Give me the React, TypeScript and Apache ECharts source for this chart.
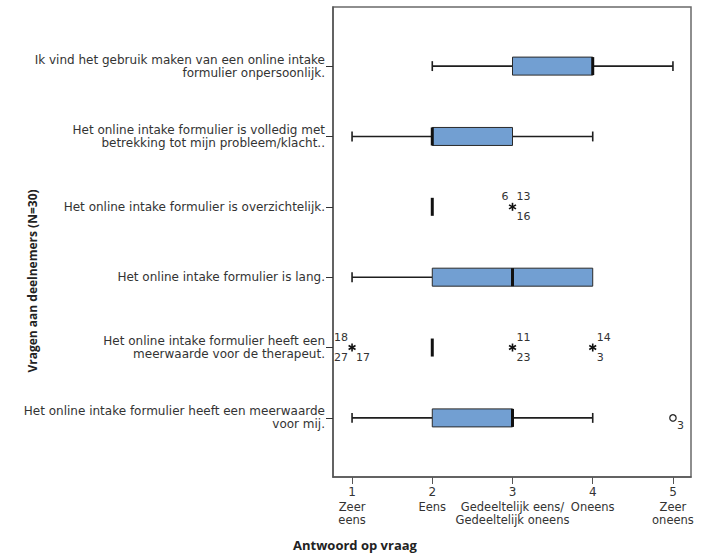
import React, { useEffect, useRef } from "react";
import * as echarts from "echarts";

// Questions, top to bottom (row index 0..5)
const questions = [
  "Ik vind het gebruik maken van een online intake\nformulier onpersoonlijk.",
  "Het online intake formulier is volledig met\nbetrekking tot mijn probleem/klacht..",
  "Het online intake formulier is overzichtelijk.",
  "Het online intake formulier is lang.",
  "Het online intake formulier heeft een\nmeerwaarde voor de therapeut.",
  "Het online intake formulier heeft een meerwaarde\nvoor mij.",
];

// Answer scale
const scaleValues = [1, 2, 3, 4, 5];
const scaleNames = [
  "Zeer\neens",
  "Eens",
  "Gedeeltelijk eens/\nGedeeltelijk oneens",
  "Oneens",
  "Zeer\noneens",
];

// Box-plot statistics per question
const boxMin = [2, 1, 2, 1, 2, 1];
const boxQ1 = [3, 2, 2, 2, 2, 2];
const boxMedian = [4, 2, 2, 3, 2, 3];
const boxQ3 = [4, 3, 2, 4, 2, 3];
const boxMax = [5, 4, 2, 4, 2, 4];

// Extreme values (asterisks) with case numbers: [top-left, top-right, bottom-left, bottom-right]
const extremeRow = [2, 4, 4, 4];
const extremeValue = [3, 1, 3, 4];
const extremeCases = [
  ["6", "13", "", "16"],
  ["18", "", "27", "17"],
  ["", "11", "", "23"],
  ["", "14", "", "3"],
];

// Outliers (circles) with case numbers
const outlierRow = [5];
const outlierValue = [5];
const outlierCases = [["", "", "", "3"]];

const INK = "#1e1e1e";
const BOX_FILL = "#729fd2";
const LABEL_FONT = "'DejaVu Sans', Verdana, sans-serif";
const TITLE_FONT = "'Open Sans', 'Noto Sans', sans-serif";

function caseLabels(cx: number, cy: number, cases: string[]) {
  const spots = [
    { dx: -4, dy: -10, align: "right" },
    { dx: 4, dy: -10, align: "left" },
    { dx: -4, dy: 10, align: "right" },
    { dx: 4, dy: 10, align: "left" },
  ];
  const out: any[] = [];
  cases.forEach((c, i) => {
    if (!c) return;
    const s = spots[i];
    out.push({
      type: "text",
      style: {
        x: cx + s.dx,
        y: cy + s.dy,
        text: c,
        align: s.align,
        verticalAlign: "middle",
        fill: "#333",
        font: `11px ${LABEL_FONT}`,
      },
    });
  });
  return out;
}

export default function App() {
  const ref = useRef<HTMLDivElement>(null);

  useEffect(() => {
    if (!ref.current) return;
    const chart = echarts.init(ref.current, null, { renderer: "svg" });

    const boxData = questions.map((_, i) => [
      i,
      boxMin[i],
      boxQ1[i],
      boxMedian[i],
      boxQ3[i],
      boxMax[i],
    ]);
    const extremeData = extremeRow.map((r, i) => [extremeValue[i], r, i]);
    const outlierData = outlierRow.map((r, i) => [outlierValue[i], r, i]);

    const option: any = {
      animation: false,
      backgroundColor: "#ffffff",
      grid: {
        left: 333,
        right: 21,
        top: 7,
        bottom: 76,
        show: true,
        borderColor: "#6a6a6a",
        borderWidth: 1.5,
      },
      xAxis: {
        type: "value",
        min: 0.7625,
        max: 5.225,
        splitLine: { show: false },
        axisLine: { show: true, onZero: false, lineStyle: { color: "#555", width: 1.5 } },
        axisTick: {
          show: true,
          length: 7,
          customValues: scaleValues,
          lineStyle: { color: "#555", width: 1 },
        },
        axisLabel: {
          customValues: scaleValues,
          margin: 6,
          color: "#333",
          fontFamily: LABEL_FONT,
          formatter: (v: number) => {
            const i = scaleValues.indexOf(Math.round(v));
            if (i < 0) return "";
            const lines = scaleNames[i].split("\n").map((l) => `{t|${l}}`);
            return `{n|${scaleValues[i]}}\n` + lines.join("\n");
          },
          rich: {
            n: { fontSize: 12, lineHeight: 18, fontFamily: LABEL_FONT, color: "#333" },
            t: { fontSize: 11.5, lineHeight: 12.5, fontFamily: LABEL_FONT, color: "#333" },
          },
        },
      },
      yAxis: {
        type: "value",
        inverse: true,
        min: -0.84,
        max: 5.84,
        splitLine: { show: false },
        axisLine: { show: true, onZero: false, lineStyle: { color: "#555", width: 1.5 } },
        axisTick: {
          show: true,
          length: 7,
          customValues: questions.map((_, i) => i),
          lineStyle: { color: "#333", width: 1 },
        },
        axisLabel: {
          customValues: questions.map((_, i) => i),
          margin: 8,
          color: "#333",
          fontFamily: LABEL_FONT,
          fontSize: 12,
          lineHeight: 13,
          align: "right",
          formatter: (v: number) => questions[Math.round(v)] ?? "",
        },
      },
      graphic: [
        {
          type: "text",
          x: 32,
          y: 281,
          rotation: Math.PI / 2,
          style: {
            text: "Vragen aan deelnemers (N=30)",
            align: "center",
            verticalAlign: "middle",
            fill: "#222",
            font: `bold 12px ${TITLE_FONT}`,
          },
        },
        {
          type: "text",
          x: 355,
          y: 545,
          style: {
            text: "Antwoord op vraag",
            align: "center",
            verticalAlign: "middle",
            fill: "#222",
            font: `bold 13px ${TITLE_FONT}`,
          },
        },
      ],
      series: [
        {
          type: "custom",
          name: "box",
          data: boxData,
          encode: { x: [1, 2, 3, 4, 5], y: 0 },
          renderItem: (params: any, api: any) => {
            const row = api.value(0);
            const px = (v: number) => api.coord([v, row])[0];
            const cy = api.coord([api.value(1), row])[1];
            const halfH = api.size([0, 0.256])[1] / 2;
            const capH = halfH * 0.55;
            const mn = api.value(1);
            const q1 = api.value(2);
            const md = api.value(3);
            const q3 = api.value(4);
            const mx = api.value(5);
            const whisker = { stroke: INK, lineWidth: 1.6 };
            const kids: any[] = [];
            if (mn < q1) {
              kids.push({ type: "line", shape: { x1: px(mn), y1: cy, x2: px(q1), y2: cy }, style: whisker });
              kids.push({ type: "line", shape: { x1: px(mn), y1: cy - capH, x2: px(mn), y2: cy + capH }, style: whisker });
            }
            if (mx > q3) {
              kids.push({ type: "line", shape: { x1: px(q3), y1: cy, x2: px(mx), y2: cy }, style: whisker });
              kids.push({ type: "line", shape: { x1: px(mx), y1: cy - capH, x2: px(mx), y2: cy + capH }, style: whisker });
            }
            if (q3 > q1) {
              kids.push({
                type: "rect",
                shape: { x: px(q1), y: cy - halfH, width: px(q3) - px(q1), height: halfH * 2 },
                style: { fill: BOX_FILL, stroke: "#2a2a2a", lineWidth: 1 },
              });
            }
            kids.push({
              type: "line",
              shape: { x1: px(md), y1: cy - halfH, x2: px(md), y2: cy + halfH },
              style: { stroke: "#111", lineWidth: 3 },
            });
            return { type: "group", children: kids };
          },
        },
        {
          type: "custom",
          name: "extreme",
          data: extremeData,
          encode: { x: 0, y: 1 },
          renderItem: (params: any, api: any) => {
            const [cx, cy] = api.coord([api.value(0), api.value(1)]);
            const idx = api.value(2);
            const r = 4;
            const st = { stroke: "#111", lineWidth: 1.6 };
            const kids: any[] = [];
            for (let k = 0; k < 3; k++) {
              const a = -Math.PI / 2 + (k * Math.PI) / 3;
              kids.push({
                type: "line",
                shape: {
                  x1: cx - r * Math.cos(a),
                  y1: cy - r * Math.sin(a),
                  x2: cx + r * Math.cos(a),
                  y2: cy + r * Math.sin(a),
                },
                style: st,
              });
            }
            return { type: "group", children: kids.concat(caseLabels(cx, cy, extremeCases[idx])) };
          },
        },
        {
          type: "custom",
          name: "outlier",
          data: outlierData,
          encode: { x: 0, y: 1 },
          renderItem: (params: any, api: any) => {
            const [cx, cy] = api.coord([api.value(0), api.value(1)]);
            const idx = api.value(2);
            return {
              type: "group",
              children: [
                {
                  type: "circle",
                  shape: { cx, cy, r: 3.2 },
                  style: { fill: "none", stroke: "#222", lineWidth: 1.2 },
                },
                ...caseLabels(cx, cy - 2, outlierCases[idx]),
              ],
            };
          },
        },
      ],
    };

    chart.setOption(option);
    return () => chart.dispose();
  }, []);

  return (
    <div
      ref={ref}
      style={{ position: "fixed", left: 0, top: 0, width: 712, height: 553, background: "#fff" }}
    />
  );
}
